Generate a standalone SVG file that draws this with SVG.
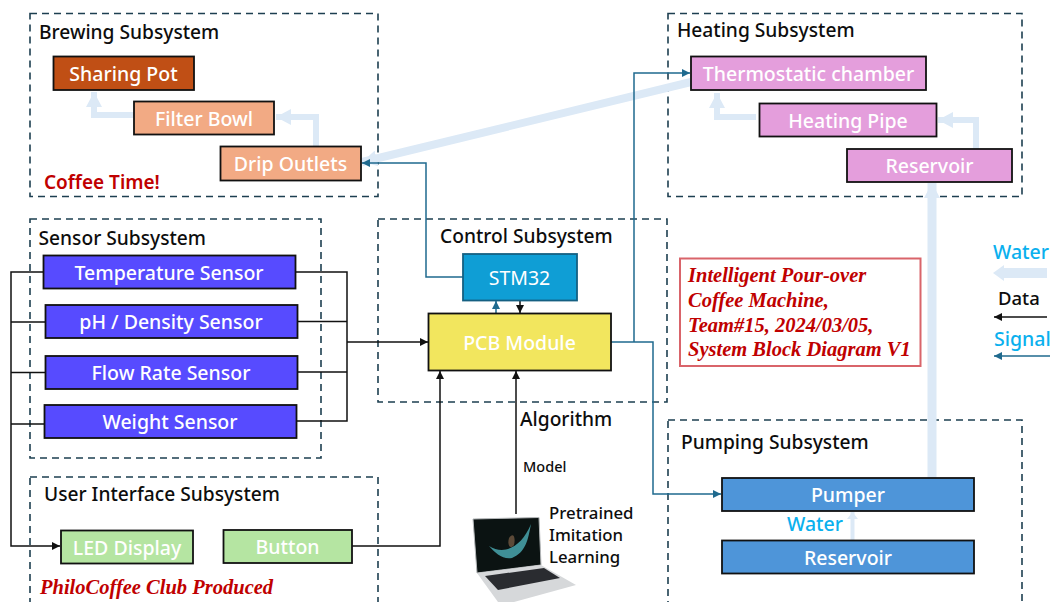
<svg xmlns="http://www.w3.org/2000/svg" width="1054" height="602" viewBox="0 0 1054 602">
<style>
text{font-family:"Noto Sans","Open Sans",sans-serif}
.sub{fill:none;stroke:#1d3f50;stroke-width:1.6;stroke-dasharray:7 5}
.t{font-size:19.200px;fill:#0d0d0d;font-weight:500}
.n{stroke:#111;stroke-width:1.8}
.l{font-size:19.500px;font-weight:500;fill:#fff;text-anchor:middle;dominant-baseline:central}
.d{fill:none;stroke:#111;stroke-width:1.5}
.s{fill:none;stroke:#1f6a8e;stroke-width:1.5}
.w{fill:none;stroke:#dce9f6;stroke-width:6}
.r{font-family:"Liberation Serif",serif;font-weight:bold;font-style:italic;fill:#c00000;font-size:20.500px}
.c{fill:#0ab0ee;font-size:19.500px;font-weight:500}
.b{fill:#0d0d0d;font-weight:500}
</style>
<defs>
<marker id="ad" markerWidth="9" markerHeight="8" refX="8" refY="4" orient="auto" markerUnits="userSpaceOnUse"><path d="M0 0L8 4L0 8Z" fill="#111"/></marker>
<marker id="as" markerWidth="9" markerHeight="8" refX="8" refY="4" orient="auto" markerUnits="userSpaceOnUse"><path d="M0 0L8 4L0 8Z" fill="#1f6a8e"/></marker>
<marker id="aw" markerWidth="16" markerHeight="16" refX="15" refY="8" orient="auto" markerUnits="userSpaceOnUse"><path d="M0 0L15 8L0 16Z" fill="#dce9f6"/></marker>
</defs>

<g id="subsystems">
<rect class="sub" x="30" y="13.500" width="348" height="183"/>
<rect class="sub" x="30" y="219" width="291" height="239"/>
<rect class="sub" x="30" y="477" width="348" height="130"/>
<rect class="sub" x="378" y="219" width="289" height="183"/>
<rect class="sub" x="668" y="13.500" width="354" height="183"/>
<rect class="sub" x="668" y="420" width="354" height="190"/>
</g>

<g id="connectors">
<path class="w" d="M134 115H94V92" marker-end="url(#aw)"/>
<path class="w" d="M316 146V117H276" marker-end="url(#aw)"/>
<path class="w" d="M756 117H717V93" marker-end="url(#aw)"/>
<path class="w" d="M976 149V120H938" marker-end="url(#aw)"/>
<path d="M691 82L362 162" fill="none" stroke="#dce9f6" stroke-width="8" marker-end="url(#aw)"/>
<path d="M932 478V183" fill="none" stroke="#dce9f6" stroke-width="9" marker-end="url(#aw)"/>
<path d="M852.500 540V512" fill="none" stroke="#dce9f6" stroke-width="4"/>
<path d="M847 519L852.500 512L858 519Z" fill="#dce9f6"/>
<path class="d" d="M43 272H11V546H60" marker-end="url(#ad)"/>
<path class="d" d="M11 322H45M11 372.500H45M11 424H44"/>
<path class="d" d="M295 272H347V421H296M297 321.500H347M297 372H347"/>
<path class="d" d="M347 342H428" marker-end="url(#ad)"/>
<path class="d" d="M352 546H440V371" marker-end="url(#ad)"/>
<path class="d" d="M516 514V371" marker-end="url(#ad)"/>
<path class="d" d="M520 300V313" marker-end="url(#ad)"/>
<path class="s" d="M496 313V301" marker-end="url(#as)"/>
<path class="s" d="M463 277H426V163H362" marker-end="url(#as)"/>
<path class="s" d="M611 342H653V494H721" marker-end="url(#as)"/>
<path class="s" d="M634 342V73H690" marker-end="url(#as)"/>
<path d="M1047 273H1004" fill="none" stroke="#dce9f6" stroke-width="10"/>
<path d="M1004 265L993 273L1004 281Z" fill="#dce9f6"/>
<path class="d" d="M1047 317H994" marker-end="url(#ad)"/>
<path class="s" d="M1050 356H994" marker-end="url(#as)"/>
</g>

<g id="sharing-pot"><rect class="n" x="53.500" y="56.500" width="140.500" height="33.500" fill="#c04f15"/><text class="l" x="123.500" y="73">Sharing Pot</text></g>
<g id="filter-bowl"><rect class="n" x="134" y="101.500" width="140" height="33" fill="#f2aa84"/><text class="l" x="204" y="118">Filter Bowl</text></g>
<g id="drip-outlets"><rect class="n" x="220.500" y="146.500" width="140.500" height="34" fill="#f2aa84"/><text class="l" x="290.500" y="163">Drip Outlets</text></g>
<g id="temperature-sensor"><rect class="n" x="43.500" y="255.500" width="252" height="33" fill="#574bff"/><text class="l" x="169" y="272">Temperature Sensor</text></g>
<g id="ph-density-sensor"><rect class="n" x="45.500" y="305" width="252" height="33" fill="#574bff"/><text class="l" x="171" y="321.500">pH / Density Sensor</text></g>
<g id="flow-rate-sensor"><rect class="n" x="45.500" y="356" width="252" height="33" fill="#574bff"/><text class="l" x="171" y="372.500">Flow Rate Sensor</text></g>
<g id="weight-sensor"><rect class="n" x="44.500" y="405" width="252" height="33" fill="#574bff"/><text class="l" x="170" y="421.500">Weight Sensor</text></g>
<g id="led-display"><rect class="n" x="61" y="530.500" width="132" height="33" fill="#b5e5a2"/><text class="l" x="127" y="547">LED Display</text></g>
<g id="button"><rect class="n" x="223.500" y="530" width="128.500" height="33" fill="#b5e5a2"/><text class="l" x="287.500" y="546.500">Button</text></g>
<g id="stm32"><rect x="463" y="254" width="114" height="46.500" fill="#0f9ed5" stroke="#156082" stroke-width="1.800"/><text class="l" x="519.500" y="277.500" style="font-weight:400">STM32</text></g>
<g id="pcb-module"><rect class="n" x="428.500" y="313.500" width="182.500" height="57" fill="#f2e65e"/><text class="l" x="519.500" y="342">PCB Module</text></g>
<g id="thermostatic-chamber"><rect class="n" x="691" y="56.500" width="235" height="33.500" fill="#e49edc"/><text class="l" x="808.500" y="73">Thermostatic chamber</text></g>
<g id="heating-pipe"><rect class="n" x="759.500" y="103.500" width="177" height="33" fill="#e49edc"/><text class="l" x="848" y="120">Heating Pipe</text></g>
<g id="heating-reservoir"><rect class="n" x="847" y="149" width="165" height="33" fill="#e49edc"/><text class="l" x="929.500" y="165.500">Reservoir</text></g>
<g id="pumper"><rect class="n" x="722" y="478" width="252" height="33" fill="#4e95d9"/><text class="l" x="848" y="494.500">Pumper</text></g>
<g id="pump-reservoir"><rect class="n" x="722" y="540.500" width="252" height="33" fill="#4e95d9"/><text class="l" x="848" y="557">Reservoir</text></g>

<g id="labels">
<text class="t" x="39" y="38.500">Brewing Subsystem</text>
<text class="t" x="38.500" y="244.500">Sensor Subsystem</text>
<text class="t" x="44" y="501">User Interface Subsystem</text>
<text class="t" x="440" y="242.500">Control Subsystem</text>
<text class="t" x="677" y="37">Heating Subsystem</text>
<text class="t" x="681" y="449">Pumping Subsystem</text>
<text x="44" y="189" font-size="19" font-weight="600" fill="#c00000">Coffee Time!</text>
<text class="r" x="40" y="594">PhiloCoffee Club Produced</text>
<text class="t" x="520" y="426">Algorithm</text>
<text class="b" x="523" y="472" font-size="14.500">Model</text>
<text class="b" x="549" y="519" font-size="16.800">Pretrained</text>
<text class="b" x="549" y="541" font-size="16.800">Imitation</text>
<text class="b" x="549" y="563" font-size="16.800">Learning</text>
<text class="c" x="993" y="259">Water</text>
<text class="b" x="998" y="305" font-size="18.500">Data</text>
<text class="c" x="994" y="346">Signal</text>
<text class="c" x="787" y="531">Water</text>
</g>

<g id="note">
<rect x="680" y="258.500" width="240.500" height="107.500" fill="#fff" stroke="#d9646a" stroke-width="2"/>
<text class="r" x="688" y="282">Intelligent Pour-over</text>
<text class="r" x="688" y="307">Coffee Machine,</text>
<text class="r" x="688" y="332">Team#15, 2024/03/05,</text>
<text class="r" x="688" y="356">System Block Diagram V1</text>
</g>

<g id="laptop">
<path d="M473 519L539 517.500L541 565L477 573Z" fill="#0b1312" stroke="#b5b8ba" stroke-width="1"/>
<path d="M489 546C505 556 522 546 531 524C528 540 526 552 512 558C503 560 495 553 489 546Z" fill="#3f8f96"/>
<path d="M509 538C513 532 516 537 514 545C510 550 507 545 509 538Z" fill="#5c4a38"/>
<path d="M477 573L541 565L576 585L514 602H498Z" fill="#d6d8da"/>
<path d="M485 576L544 568L560 578L498 590Z" fill="#2a2c30"/>
</g>
</svg>
